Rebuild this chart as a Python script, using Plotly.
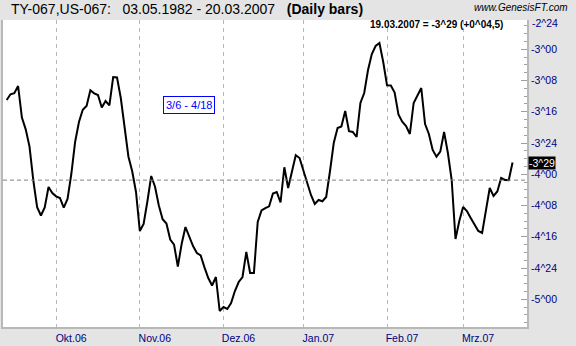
import pandas as pd
import plotly.graph_objects as go

# ---------------- data ----------------
start_date = "2006-09-13"
end_date = "2007-03-20"
holidays = ["2006-12-25"]

spread = [
    -3.406, -3.360, -3.352, -3.294, -3.546, -3.641, -3.779, -4.049, -4.263, -4.330,
    -4.265, -4.102, -4.150, -4.177, -4.190, -4.267, -4.198, -3.996, -3.740, -3.582,
    -3.484, -3.453, -3.328, -3.353, -3.366, -3.466, -3.414, -3.449, -3.222, -3.225,
    -3.390, -3.633, -3.858, -3.976, -4.142, -4.454, -4.398, -4.216, -4.014, -4.100,
    -4.250, -4.360, -4.394, -4.522, -4.563, -4.738, -4.558, -4.422, -4.494, -4.574,
    -4.630, -4.649, -4.745, -4.830, -4.890, -4.822, -5.094, -5.062, -5.078, -5.030,
    -4.934, -4.862, -4.822, -4.622, -4.790, -4.790, -4.382, -4.290, -4.271, -4.257,
    -4.154, -4.142, -4.226, -3.944, -4.110, -3.976, -3.848, -3.870, -3.972, -4.062,
    -4.166, -4.238, -4.206, -4.216, -4.182, -3.976, -3.748, -3.630, -3.618, -3.494,
    -3.656, -3.662, -3.702, -3.430, -3.350, -3.166, -3.038, -2.974, -2.950, -3.102,
    -3.289, -3.290, -3.346, -3.522, -3.580, -3.614, -3.678, -3.430, -3.374, -3.310,
    -3.598, -3.678, -3.806, -3.859, -3.819, -3.662, -3.830, -4.046, -4.518, -4.374,
    -4.262, -4.294, -4.350, -4.398, -4.454, -4.470, -4.294, -4.110, -4.174, -4.138,
    -4.030, -4.046, -4.047, -3.906,
]

month_ticks = ["2006-10-02", "2006-11-01", "2006-12-01", "2007-01-02", "2007-02-01", "2007-03-01"]
month_labels = ["Okt.06", "Nov.06", "Dez.06", "Jan.07", "Feb.07", "Mrz.07"]

price_ticks = [-2.75, -3.0, -3.25, -3.5, -3.75, -4.0, -4.25, -4.5, -4.75, -5.0]
price_labels = ["-2^24", "-3^00", "-3^08", "-3^16", "-3^24", "-4^00", "-4^08", "-4^16", "-4^24", "-5^00"]

header_left = "TY-067,US-067:\u00a0\u00a0 03.05.1982 - 20.03.2007\u00a0\u00a0 <b>(Daily bars)</b>"
website = "<i>www.GenesisFT.com</i>"
status = "<b>19.03.2007 = -3^29 (+0^04,5)</b>"
box_text = "3/6 - 4/18"

# ---------------- helpers ----------------
days = pd.bdate_range(start_date, end_date)
days = days[~days.isin(pd.to_datetime(holidays))]


def fmt32(v):
    sign = "-" if v < 0 else ""
    a = abs(v)
    w = int(a)
    t = int(round((a - w) * 32))
    if t == 32:
        w += 1
        t = 0
    return f"{sign}{w}^{t:02d}"


W, H = 576, 346
ML, MR, MT, MB = 1, 49, 20, 19
PW, PH = W - ML - MR, H - MT - MB
Y_RANGE = [-5.222, -2.766]


def px(xp):
    return (xp - ML) / PW


def py(yp):
    return (H - MB - yp) / PH


def yfrac(v):
    return (v - Y_RANGE[0]) / (Y_RANGE[1] - Y_RANGE[0])


FONT = "Liberation Sans, Arial, sans-serif"
NAVY = "#000080"

fig = go.Figure()
fig.add_trace(go.Scatter(
    x=days, y=spread, mode="lines",
    line=dict(color="black", width=2),
    hoverinfo="skip", showlegend=False,
))

# previous close reference line
fig.add_shape(type="line", xref="paper", x0=0, x1=1, yref="y",
              y0=spread[-2], y1=spread[-2],
              line=dict(color="#808080", width=1, dash="4px,3px"))

annotations = [
    dict(text=header_left, xref="paper", yref="paper", x=px(7), y=py(9.5),
         xanchor="left", yanchor="middle", showarrow=False,
         font=dict(family=FONT, size=14, color="black")),
    dict(text=website, xref="paper", yref="paper", x=px(570), y=py(8),
         xanchor="right", yanchor="middle", showarrow=False,
         font=dict(family=FONT, size=10, color="black")),
    dict(text=status, xref="paper", yref="paper", x=px(505), y=py(24),
         xanchor="right", yanchor="middle", showarrow=False,
         font=dict(family=FONT, size=10, color="black")),
    dict(text=box_text, xref="paper", yref="paper", x=px(187.5), y=py(105),
         xanchor="center", yanchor="middle", showarrow=False,
         bgcolor="white", bordercolor="#0000ff", borderwidth=1, borderpad=2,
         font=dict(family=FONT, size=11, color="#0000ff")),
    dict(text=fmt32(spread[-1]), xref="paper", yref="y", x=1, y=spread[-1],
         xanchor="left", yanchor="middle", xshift=1, showarrow=False,
         bgcolor="black", borderpad=0,
         font=dict(family=FONT, size=10.5, color="white")),
]

# tick labels that sit just beyond the top edge are pushed inside, as in the original
for v, lab in zip(price_ticks, price_labels):
    if v > Y_RANGE[1]:
        annotations.append(dict(
            text=lab, xref="paper", yref="paper", x=1, y=yfrac(v), yshift=-5, xshift=3,
            xanchor="left", yanchor="middle", showarrow=False,
            font=dict(family=FONT, size=10.5, color=NAVY)))

fig.update_layout(
    width=W, height=H,
    margin=dict(l=ML, r=MR, t=MT, b=MB, pad=0),
    paper_bgcolor="#e4e4e4",
    plot_bgcolor="white",
    font=dict(family=FONT, size=11, color="black"),
    showlegend=False,
    xaxis=dict(
        type="date",
        range=["2006-09-12 00:43", "2007-03-23 19:12"],
        rangebreaks=[dict(bounds=["sat", "mon"]), dict(values=holidays)],
        tickmode="array", tickvals=month_ticks, ticktext=month_labels,
        ticks="", ticklabelshift=15,
        tickfont=dict(family=FONT, size=10.5, color=NAVY),
        showgrid=True, gridcolor="#b8b8b8", gridwidth=1, griddash="4px,4px",
        showline=True, linecolor="#b8b8b8", linewidth=2,
        zeroline=False, fixedrange=True,
    ),
    yaxis=dict(
        side="right",
        range=Y_RANGE,
        tickmode="array", tickvals=price_ticks, ticktext=price_labels,
        ticks="inside", ticklen=6, tickcolor="#a0a0a0", tickwidth=1,
        minor=dict(ticks="inside", ticklen=3, tickcolor="#a0a0a0",
                   tick0=-5.0, dtick=0.0625, showgrid=False),
        tickfont=dict(family=FONT, size=10.5, color=NAVY),
        showgrid=False, zeroline=False,
        showline=True, linecolor="#b8b8b8", linewidth=2, mirror=True,
        fixedrange=True,
    ),
    annotations=annotations,
)

fig.write_html("out.html")
